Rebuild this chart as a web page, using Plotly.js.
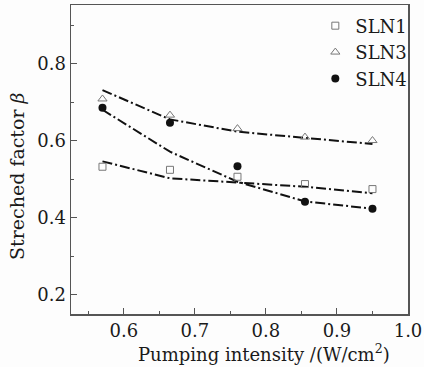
<!DOCTYPE html>
<html>
<head>
<meta charset="utf-8">
<script src="https://cdn.plot.ly/plotly-3.0.1.min.js"></script>
<style>html,body{margin:0;padding:0;background:#fdfdfd;}#chart{width:424px;height:367px;}</style>
</head>
<body>
<div id="chart"></div>
<script>
const intensity = [0.57, 0.665, 0.76, 0.855, 0.95];
const sln1 = [0.533, 0.525, 0.507, 0.488, 0.475];
const sln3 = [0.709, 0.667, 0.632, 0.610, 0.601];
const sln4 = [0.686, 0.647, 0.534, 0.442, 0.424];
const fit1 = [0.547, 0.503, 0.492, 0.481, 0.464];
const fit3 = [0.732, 0.656, 0.624, 0.608, 0.592];
const fit4 = [0.681, 0.572, 0.494, 0.443, 0.424];
const names = ['SLN1', 'SLN3', 'SLN4'];
const xTicks = [0.6, 0.7, 0.8, 0.9, 1.0];
const xTickText = ['0.6', '0.7', '0.8', '0.9', '1.0'];
const yTicks = [0.2, 0.4, 0.6, 0.8];
const yTickText = ['0.2', '0.4', '0.6', '0.8'];
const xTitle = 'Pumping intensity /(W/cm<sup>2</sup>)';
const yTitle = 'Streched factor <i>β</i>';

const FONT = 'DejaVu Serif, Liberation Serif, serif';
const fitLine = {color: '#111', width: 2, dash: '10px,3px,2px,3px'};
const traces = [
  {x: intensity, y: fit1, mode: 'lines', line: fitLine, showlegend: false, hoverinfo: 'skip'},
  {x: intensity, y: fit3, mode: 'lines', line: fitLine, showlegend: false, hoverinfo: 'skip'},
  {x: intensity, y: fit4, mode: 'lines', line: fitLine, showlegend: false, hoverinfo: 'skip'},
  {x: intensity, y: sln1, name: names[0], mode: 'markers',
   marker: {symbol: 'square-open', size: 7, color: '#777', line: {width: 1}}},
  {x: intensity, y: sln3, name: names[1], mode: 'markers',
   marker: {symbol: 'triangle-up-open', size: 8, color: '#777', line: {width: 1}}},
  {x: intensity, y: sln4, name: names[2], mode: 'markers',
   marker: {symbol: 'circle', size: 8, color: '#111'}}
];
const layout = {
  width: 424, height: 367,
  margin: {l: 71, r: 16, t: 5, b: 53},
  paper_bgcolor: '#fdfdfd', plot_bgcolor: '#fdfdfd',
  font: {family: FONT, color: '#1a1a1a', size: 18},
  showlegend: true,
  legend: {x: 0.725, y: 0.992, xanchor: 'left', yanchor: 'top', bgcolor: 'rgba(0,0,0,0)',
           font: {family: FONT, size: 18, color: '#1a1a1a'}, itemwidth: 30, tracegroupgap: 0},
  xaxis: {
    range: [0.5257, 1.0], tickvals: xTicks, ticktext: xTickText,
    ticks: 'inside', ticklen: 6, tickcolor: '#555', tickwidth: 1,
    showline: true, linecolor: '#555', linewidth: 1.5, mirror: true,
    showgrid: false, zeroline: false,
    minor: {tickvals: [0.55, 0.65, 0.75, 0.85, 0.95], ticks: 'inside', ticklen: 3, tickcolor: '#555'},
    tickfont: {family: FONT, size: 18, color: '#1a1a1a'}
  },
  yaxis: {
    range: [0.1506, 0.953], tickvals: yTicks, ticktext: yTickText,
    ticks: 'inside', ticklen: 6, tickcolor: '#555', tickwidth: 1,
    showline: true, linecolor: '#555', linewidth: 1.5, mirror: true,
    showgrid: false, zeroline: false,
    minor: {tickvals: [0.3, 0.5, 0.7, 0.9], ticks: 'inside', ticklen: 3, tickcolor: '#555'},
    tickfont: {family: FONT, size: 18, color: '#1a1a1a'}
  },
  annotations: [
    {text: xTitle, xref: 'paper', yref: 'paper', x: 0.573, y: -0.126,
     xanchor: 'center', yanchor: 'middle', showarrow: false,
     font: {family: FONT, size: 18, color: '#1a1a1a'}},
    {text: yTitle, xref: 'paper', yref: 'paper', x: -0.16, y: 0.447, textangle: -90,
     xanchor: 'center', yanchor: 'middle', showarrow: false,
     font: {family: FONT, size: 19, color: '#1a1a1a'}}
  ]
};
Plotly.newPlot('chart', traces, layout, {staticPlot: true, displayModeBar: false});
</script>
</body>
</html>
